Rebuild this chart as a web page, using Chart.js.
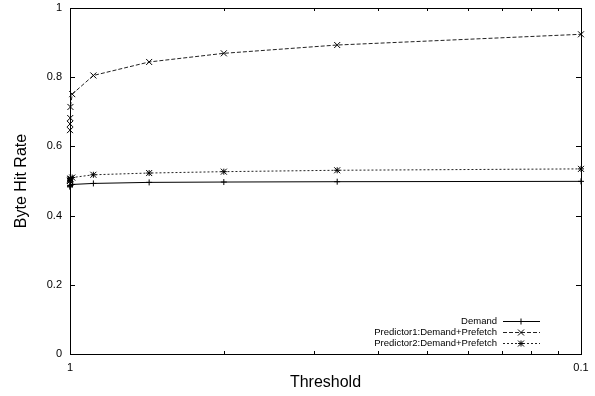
<!DOCTYPE html>
<html>
<head>
<meta charset="utf-8">
<script src="https://cdn.jsdelivr.net/npm/chart.js@4/dist/chart.umd.min.js"></script>
<style>
  html, body { margin: 0; padding: 0; background: #fff; }
  #wrap { width: 595px; height: 396px; }
</style>
</head>
<body>
<div id="wrap"><canvas id="line-chart" width="595" height="396"></canvas></div>
<script>
// thresholds (x axis runs from 1 on the left to 0.1 on the right, log of 1/threshold)
const thresholds = [1, 0.9999, 0.999, 0.998, 0.99, 0.9, 0.7, 0.5, 0.3, 0.1];
const demand = [0.483, 0.485, 0.487, 0.488, 0.490, 0.493, 0.496, 0.497, 0.498, 0.499];
const predictor1 = [0.647, 0.665, 0.682, 0.714, 0.751, 0.805, 0.844, 0.869, 0.893, 0.924];
const predictor2 = [0.500, 0.502, 0.505, 0.507, 0.510, 0.518, 0.523, 0.527, 0.531, 0.535];
const seriesNames = ["Demand", "Predictor1:Demand+Prefetch", "Predictor2:Demand+Prefetch"];
const yTicks = [0, 0.2, 0.4, 0.6, 0.8, 1];
const xTickLabels = { 1: "1", 10: "0.1" };

const FONT = "'Liberation Sans', Arial, Helvetica, sans-serif";

function toPoints(values) {
    return thresholds.map((t, i) => ({ x: 1 / t, y: values[i] }));
}

function drawMarker(ctx, style, x, y, r) {
    ctx.beginPath();
    if (style === "cross" || style === "star") {
        ctx.moveTo(x - r, y); ctx.lineTo(x + r, y);
        ctx.moveTo(x, y - r); ctx.lineTo(x, y + r);
    }
    if (style === "crossRot" || style === "star") {
        ctx.moveTo(x - r, y - r); ctx.lineTo(x + r, y + r);
        ctx.moveTo(x - r, y + r); ctx.lineTo(x + r, y - r);
    }
    ctx.stroke();
}

// gnuplot style frame: full border, ticks pointing inward, legend bottom right
const framePlugin = {
    id: "frame",
    afterDatasetsDraw(chart) {
        const ctx = chart.ctx;
        const a = chart.chartArea;
        const xs = chart.scales.x;
        const ys = chart.scales.y;
        ctx.save();
        ctx.strokeStyle = "#000";
        ctx.lineWidth = 1;
        ctx.setLineDash([]);
        ctx.strokeRect(a.left + 0.5, a.top + 0.5, a.right - a.left, a.bottom - a.top);

        ctx.beginPath();
        yTicks.forEach(v => {
            const py = Math.round(ys.getPixelForValue(v)) + 0.5;
            ctx.moveTo(a.left, py); ctx.lineTo(a.left + 5, py);
            ctx.moveTo(a.right, py); ctx.lineTo(a.right - 5, py);
        });
        for (let v = 1; v <= 10; v++) {
            const px = Math.round(xs.getPixelForValue(v)) + 0.5;
            const len = (v === 1 || v === 10) ? 5 : 3;
            ctx.moveTo(px, a.bottom); ctx.lineTo(px, a.bottom - len);
            ctx.moveTo(px, a.top); ctx.lineTo(px, a.top + len);
        }
        ctx.stroke();

        // legend
        ctx.font = "9.5px " + FONT;
        ctx.fillStyle = "#000";
        ctx.textAlign = "right";
        ctx.textBaseline = "middle";
        chart.data.datasets.forEach((ds, i) => {
            const ly = a.bottom - 33 + i * 11;
            ctx.fillText(ds.label, a.right - 84, ly);
            ctx.strokeStyle = ds.borderColor;
            ctx.setLineDash(ds.borderDash || []);
            ctx.beginPath();
            ctx.moveTo(a.right - 78, ly + 0.5);
            ctx.lineTo(a.right - 41, ly + 0.5);
            ctx.stroke();
            ctx.setLineDash([]);
            ctx.strokeStyle = "#000";
            drawMarker(ctx, ds.pointStyle, a.right - 60, ly + 0.5, 3);
        });
        ctx.restore();
    }
};

const markerPlugin = {
    id: "markers",
    afterDatasetsDraw(chart) {
        const ctx = chart.ctx;
        ctx.save();
        ctx.strokeStyle = "#000";
        ctx.lineWidth = 1;
        chart.data.datasets.forEach((ds, i) => {
            chart.getDatasetMeta(i).data.forEach(pt => {
                drawMarker(ctx, ds.pointStyle, pt.x, pt.y, 3);
            });
        });
        ctx.restore();
    }
};

const ctx = document.getElementById("line-chart").getContext("2d");
const myChart = new Chart(ctx, {
    type: "line",
    data: {
        datasets: [{
            label: seriesNames[0],
            data: toPoints(demand),
            borderColor: "#000",
            borderWidth: 1,
            pointStyle: "cross",
            pointRadius: 0
        }, {
            label: seriesNames[1],
            data: toPoints(predictor1),
            borderColor: "#222",
            borderWidth: 1,
            borderDash: [4, 2],
            pointStyle: "crossRot",
            pointRadius: 0
        }, {
            label: seriesNames[2],
            data: toPoints(predictor2),
            borderColor: "#222",
            borderWidth: 1,
            borderDash: [2, 2],
            pointStyle: "star",
            pointRadius: 0
        }]
    },
    options: {
        responsive: false,
        animation: false,
        layout: { padding: { top: 8, right: 14, left: 0, bottom: 0 } },
        plugins: {
            legend: { display: false },
            tooltip: { enabled: false }
        },
        scales: {
            x: {
                type: "logarithmic",
                min: 1,
                max: 10,
                afterBuildTicks: (s) => { s.ticks = [{ value: 1 }, { value: 10 }]; },
                afterFit: (s) => { s.height = 42; s.paddingLeft = 0; s.paddingRight = 0; },
                grid: { display: false, drawTicks: false },
                border: { display: false },
                ticks: {
                    color: "#000",
                    font: { family: FONT, size: 11 },
                    padding: 7,
                    maxRotation: 0,
                    autoSkip: false,
                    callback: (v) => xTickLabels[v] || ""
                },
                title: {
                    display: true,
                    text: "Threshold",
                    color: "#000",
                    font: { family: FONT, size: 16 },
                    padding: { top: 0, bottom: 4 }
                }
            },
            y: {
                min: 0,
                max: 1,
                afterBuildTicks: (s) => { s.ticks = yTicks.map(v => ({ value: v })); },
                afterFit: (s) => { s.width = 70; s.paddingTop = 0; s.paddingBottom = 0; },
                grid: { display: false, drawTicks: false },
                border: { display: false },
                ticks: {
                    color: "#000",
                    font: { family: FONT, size: 11 },
                    padding: 8,
                    callback: (v) => String(v)
                },
                title: {
                    display: true,
                    text: "Byte Hit Rate",
                    color: "#000",
                    font: { family: FONT, size: 16 },
                    padding: { top: 12, bottom: 0 }
                }
            }
        }
    },
    plugins: [framePlugin, markerPlugin]
});
</script>
</body>
</html>
